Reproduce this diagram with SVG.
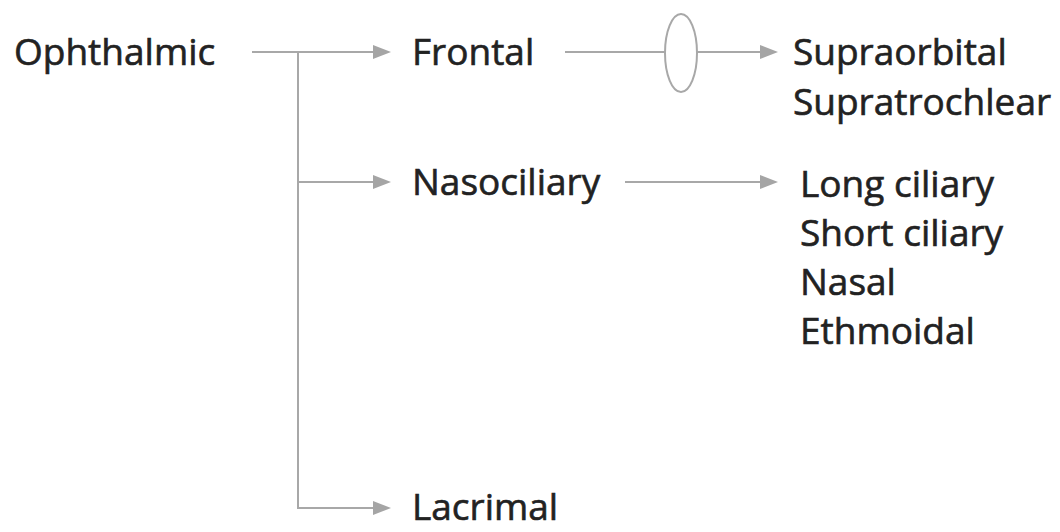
<svg xmlns="http://www.w3.org/2000/svg" width="1060" height="532" viewBox="0 0 1060 532">
<defs>
<marker id="arr" markerWidth="20" markerHeight="16" refX="0" refY="8" orient="auto" markerUnits="userSpaceOnUse">
<path d="M0,1 L18,8 L0,15 Z" fill="#a5a5a5"/>
</marker>
<style>
text{font-family:"Open Sans","Liberation Sans",sans-serif;font-size:37px;fill:#222;stroke:#222;stroke-width:0.6}
.ln{stroke:#a8a8a8;stroke-width:2;fill:none}
</style>
</defs>
<rect width="1060" height="532" fill="#fff"/>
<g id="connectors">
<path class="ln" d="M252,52 H373" marker-end="url(#arr)"/>
<path class="ln" d="M298,52 V508 H373" marker-end="url(#arr)"/>
<path class="ln" d="M298,182 H373" marker-end="url(#arr)"/>
<path class="ln" d="M565,52 H665"/>
<path class="ln" d="M697,52 H760" marker-end="url(#arr)"/>
<path class="ln" d="M625,182 H760" marker-end="url(#arr)"/>
<ellipse class="ln" cx="681" cy="53" rx="16" ry="39"/>
</g>
<g id="ophthalmic"><text x="14" y="65">Ophthalmic</text></g>
<g id="frontal"><text x="412" y="65">Frontal</text></g>
<g id="nasociliary"><text x="412" y="195">Nasociliary</text></g>
<g id="lacrimal"><text x="412" y="520">Lacrimal</text></g>
<g id="frontal-branches">
<text x="793" y="65">Supraorbital</text>
<text x="793" y="115">Supratrochlear</text>
</g>
<g id="nasociliary-branches">
<text x="800" y="197">Long ciliary</text>
<text x="800" y="246">Short ciliary</text>
<text x="800" y="295">Nasal</text>
<text x="800" y="344">Ethmoidal</text>
</g>
</svg>
